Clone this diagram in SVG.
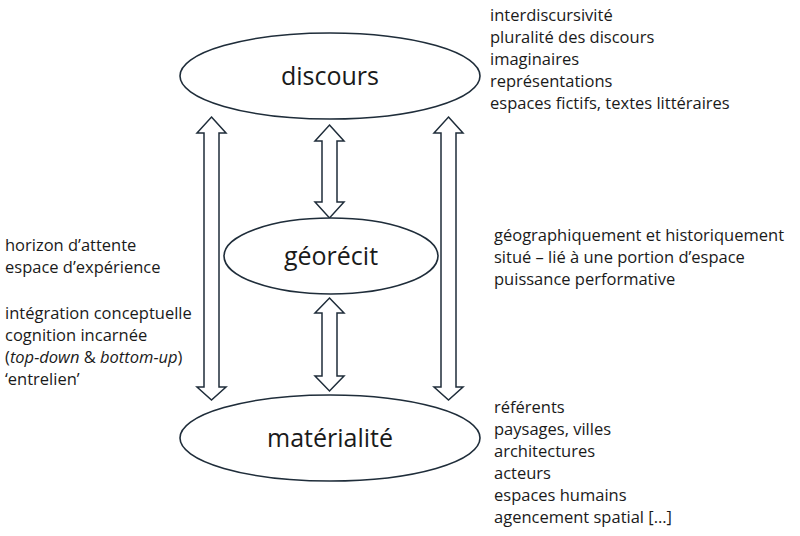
<svg xmlns="http://www.w3.org/2000/svg" width="800" height="536" viewBox="0 0 800 536">
<style>
.n{fill:#fff;stroke:#1f2d3a;stroke-width:1.6}
.a{fill:#fff;stroke:#1f2d3a;stroke-width:1.5;stroke-linejoin:miter}
.l{font-family:"Open Sans","Liberation Sans",Arial,sans-serif;font-size:25px;fill:#1a1a1a;text-anchor:middle}
.t{font-family:"Open Sans","Liberation Sans",Arial,sans-serif;font-size:16.5px;fill:#1a1a1a}
</style>
<rect width="800" height="536" fill="#fff"/>
<g id="connectors">
<path class="a" d="M211.5,117 L226,133 L219,133 L219,387 L226,387 L211.5,400 L197,387 L204,387 L204,133 L197,133 Z"/>
<path class="a" d="M448.5,117 L463,133 L456,133 L456,387 L463,387 L448.5,400 L434,387 L441,387 L441,133 L434,133 Z"/>
<path class="a" d="M329.5,125 L344,141 L337,141 L337,202 L344,202 L329.5,218 L315,202 L322,202 L322,141 L315,141 Z"/>
<path class="a" d="M329.5,298 L344,313 L337,313 L337,376 L344,376 L329.5,391 L315,376 L322,376 L322,313 L315,313 Z"/>
</g>
<g id="discours"><ellipse class="n" cx="330" cy="76" rx="150" ry="43"/><text class="l" x="330" y="85">discours</text></g>
<g id="georecit"><ellipse class="n" cx="331" cy="256" rx="107" ry="38"/><text class="l" x="331" y="265">géorécit</text></g>
<g id="materialite"><ellipse class="n" cx="330" cy="438" rx="150" ry="43"/><text class="l" x="330" y="447">matérialité</text></g>
<g id="texts">
<text class="t" x="490" y="21">interdiscursivité</text>
<text class="t" x="490" y="43">pluralité des discours</text>
<text class="t" x="490" y="65">imaginaires</text>
<text class="t" x="490" y="87">représentations</text>
<text class="t" x="490" y="109">espaces fictifs, textes littéraires</text>
<text class="t" x="494" y="241">géographiquement et historiquement</text>
<text class="t" x="494" y="263">situé – lié à une portion d’espace</text>
<text class="t" x="494" y="285">puissance performative</text>
<text class="t" x="494" y="413">référents</text>
<text class="t" x="494" y="435">paysages, villes</text>
<text class="t" x="494" y="457">architectures</text>
<text class="t" x="494" y="479">acteurs</text>
<text class="t" x="494" y="501">espaces humains</text>
<text class="t" x="494" y="523">agencement spatial […]</text>
<text class="t" x="5" y="251">horizon d’attente</text>
<text class="t" x="5" y="273">espace d’expérience</text>
<text class="t" x="5" y="319">intégration conceptuelle</text>
<text class="t" x="5" y="341">cognition incarnée</text>
<text class="t" x="5" y="363">(<tspan font-style="italic">top-down</tspan> &amp; <tspan font-style="italic">bottom-up</tspan>)</text>
<text class="t" x="5" y="385">‘entrelien’</text>
</g>
</svg>
